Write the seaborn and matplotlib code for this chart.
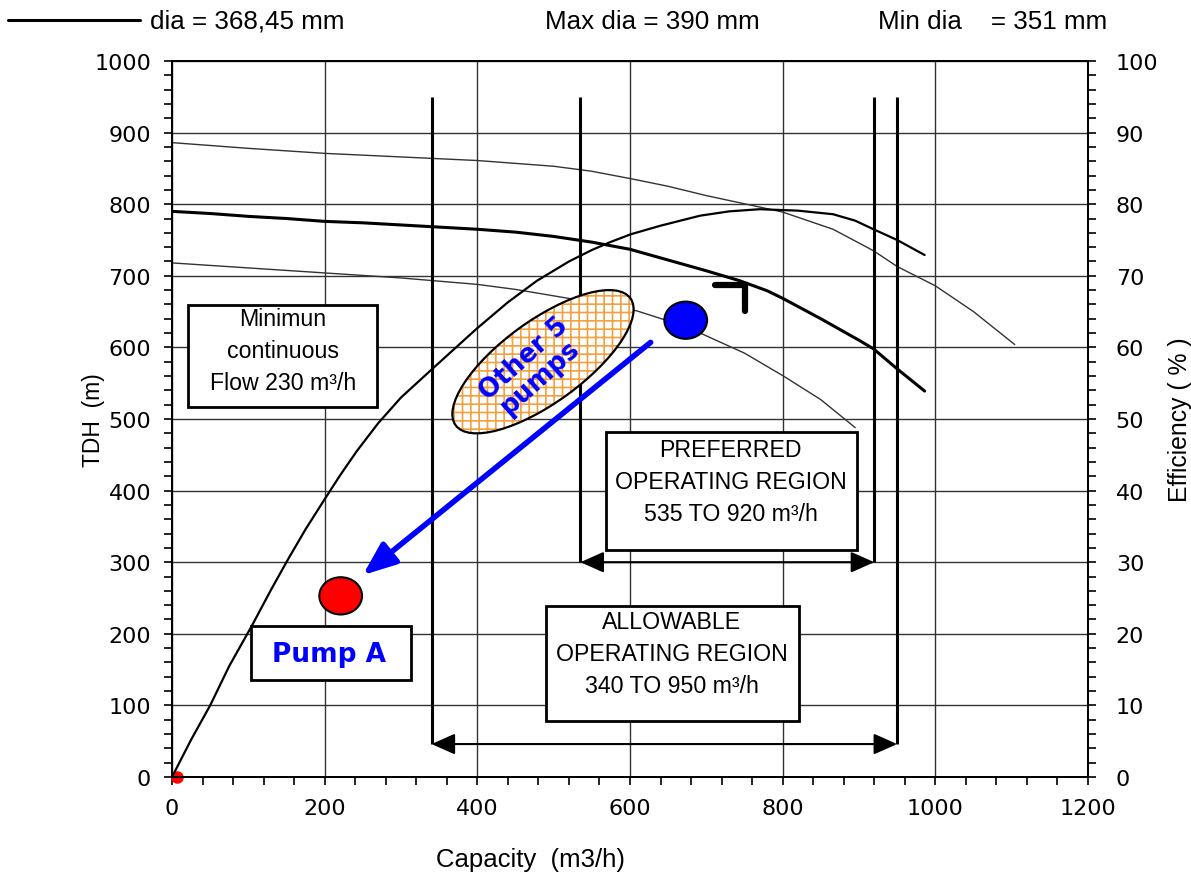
import numpy as np
import pandas as pd
import matplotlib.pyplot as plt
import matplotlib.transforms as mtransforms
from matplotlib.patches import Ellipse, Rectangle
from matplotlib.lines import Line2D
from matplotlib.ticker import MultipleLocator
import seaborn as sns

# --- head curves (TDH, m) ---
q_max = [0, 100, 200, 300, 400, 450, 500, 550, 604, 650, 700, 770, 800, 866, 919, 950, 1000, 1050, 1104]
h_max = [886, 878, 871, 866, 861, 857, 853, 846, 835, 825, 812, 796, 789, 765, 735, 713, 686, 650, 604]

q_rated = [0, 50, 100, 150, 200, 250, 300, 350, 400, 450, 500, 550, 600, 650, 700, 744, 780, 801,
           850, 900, 919, 950, 986]
h_rated = [790, 787, 783, 780, 776, 774, 771, 768, 765, 761, 755, 747, 737, 722, 707, 693, 679, 668,
           640, 610, 598, 570, 539]

q_min = [0, 100, 200, 300, 400, 450, 500, 550, 609, 650, 692, 750, 801, 850, 895]
h_min = [718, 711, 704, 697, 688, 681, 672, 663, 651, 637, 620, 592, 560, 527, 488]

# --- efficiency curve (%) ---
q_eff = [0, 25, 50, 75, 104, 130, 152, 175, 200, 220, 242, 270, 300, 340, 370, 399, 440, 478,
         520, 550, 574, 601, 640, 692, 730, 770, 820, 866, 895, 919, 950, 986]
eff = [0, 5.2, 10, 15.5, 21, 26.2, 30.4, 34.6, 38.8, 42.1, 45.5, 49.4, 53, 56.9, 59.8, 62.6, 66.3, 69.3,
       72, 73.6, 74.7, 75.8, 77, 78.4, 79, 79.3, 79.1, 78.6, 77.7, 76.5, 75, 72.9]

# --- operating regions (m3/h) ---
allow_lo, allow_hi = 340, 950
pref_lo, pref_hi = 535, 920
min_flow = 230

# --- pump duty points ---
pump_a = (221, 253)
pump_other = (673, 638)
group_centre = (486, 580)
arrow_from = (627, 607)
arrow_to = (250, 282)

header = ["dia = 368,45 mm", "Max dia = 390 mm", "Min dia    = 351 mm"]

sns.set_style("ticks")
plt.rcParams['font.family'] = ['Liberation Sans', 'DejaVu Sans']
plt.rcParams['hatch.linewidth'] = 1.2
plt.rcParams['text.color'] = 'black'
plt.rcParams['axes.labelcolor'] = 'black'
plt.rcParams['xtick.color'] = 'black'
plt.rcParams['ytick.color'] = 'black'

fig = plt.figure(figsize=(11.91, 8.79), dpi=100)
ax = fig.add_axes([172 / 1191, 1 - 778 / 879, 916 / 1191, 716 / 879])
ax2 = ax.twinx()

# grid
ax.set_xlim(0, 1200)
ax.set_ylim(0, 1000)
ax2.set_ylim(0, 100)
ax.xaxis.set_major_locator(MultipleLocator(200))
ax.xaxis.set_minor_locator(MultipleLocator(40))
ax.yaxis.set_major_locator(MultipleLocator(100))
ax.yaxis.set_minor_locator(MultipleLocator(20))
ax2.yaxis.set_major_locator(MultipleLocator(10))
ax2.yaxis.set_minor_locator(MultipleLocator(2))
ax.grid(True, which='major', color='#333333', lw=1.0, zorder=0)
ax.set_axisbelow(True)

for a in (ax, ax2):
    for s in a.spines.values():
        s.set_visible(True)
        s.set_linewidth(1.4)
        s.set_color('black')

ax.tick_params(axis='x', which='both', direction='out', top=False, pad=9, length=6, width=1.2)
ax.tick_params(axis='y', which='both', direction='out', right=False, pad=9, length=6, width=1.2)
ax2.tick_params(axis='y', which='both', direction='out', pad=14, length=6, width=1.2)
for lab in ax.get_xticklabels() + ax.get_yticklabels() + ax2.get_yticklabels():
    lab.set_fontfamily('DejaVu Sans')
    lab.set_fontsize(16)

# head curves
sns.lineplot(x=q_max, y=h_max, ax=ax, color='#333333', lw=1.0, zorder=3)
sns.lineplot(x=q_rated, y=h_rated, ax=ax, color='black', lw=2.2, zorder=3)
sns.lineplot(x=q_min, y=h_min, ax=ax, color='#333333', lw=1.0, zorder=3)

# efficiency curve
sns.lineplot(x=q_eff, y=eff, ax=ax2, color='black', lw=1.6)
ax2.set_ylim(0, 100)
ax2.set_xlim(0, 1200)

# operating region limits
ax.vlines([allow_lo, allow_hi], 46, 950, color='black', lw=2.2, zorder=4)
ax.vlines([pref_lo, pref_hi], 300, 950, color='black', lw=2.2, zorder=4)
for lo, hi, yy in [(allow_lo, allow_hi, 46), (pref_lo, pref_hi, 300)]:
    ax.annotate('', xy=(hi, yy), xytext=(lo, yy),
                arrowprops=dict(arrowstyle='<|-|>,head_length=0.9,head_width=0.4', color='black',
                                lw=1.5, mutation_scale=16, shrinkA=0, shrinkB=0), zorder=4)

# text boxes
boxes = [
    ((21, 517), 248, 142, (145, 595), "Minimun\ncontinuous\nFlow %d m³/h" % min_flow),
    ((569, 317), 328, 165, (732, 413), "PREFERRED\nOPERATING REGION\n%d TO %d m³/h" % (pref_lo, pref_hi)),
    ((490, 78), 331, 161, (655, 172), "ALLOWABLE\nOPERATING REGION\n%d TO %d m³/h" % (allow_lo, allow_hi)),
]
for xy, w, h, c, txt in boxes:
    ax.add_patch(Rectangle(xy, w, h, facecolor='white', edgecolor='black', lw=2.0, zorder=5))
    ax.text(c[0], c[1], txt, ha='center', va='center', fontsize=16.7, linespacing=1.5, zorder=6)

ax.add_patch(Rectangle((103.5, 135), 209.5, 76, facecolor='white', edgecolor='black', lw=2.0, zorder=5))
ax.text(206, 172, "Pump A", ha='center', va='center', fontsize=19, fontweight='bold',
        color='blue', family='DejaVu Sans', zorder=6)

# group of other pumps: hatched ellipse drawn in screen units
tr = fig.dpi_scale_trans + mtransforms.ScaledTranslation(group_centre[0], group_centre[1], ax.transData)
ax.add_patch(Ellipse((0, 0), 2.16, 0.82, angle=36, transform=tr, facecolor='white',
                     edgecolor='#f5a040', hatch='++', lw=0, zorder=6))
ax.add_patch(Ellipse((0, 0), 2.16, 0.82, angle=36, transform=tr, fill=False,
                     edgecolor='black', lw=1.6, zorder=7))
ax.text(472, 572, "Other 5\npumps", ha='center', va='center', rotation=42, fontsize=18.5,
        fontweight='bold', color='blue', family='DejaVu Sans', linespacing=0.9, zorder=8)

# duty points
ax.add_patch(Ellipse(pump_a, 56, 52, facecolor='red', edgecolor='black', lw=1.5, zorder=7))
ax.add_patch(Ellipse(pump_other, 56, 52, facecolor='blue', edgecolor='black', lw=1.5, zorder=7))
ax.annotate('', xy=arrow_to, xytext=arrow_from,
            arrowprops=dict(arrowstyle='-|>,head_length=1.0,head_width=0.4', color='blue',
                            lw=4, mutation_scale=20, shrinkA=0, shrinkB=0), zorder=7)

# rated point mark
ax.plot([711, 750, 750], [687, 687, 651], color='black', lw=4.5, solid_capstyle='round',
        solid_joinstyle='miter', zorder=7)
ax.plot([6], [0], marker='o', ms=8, color='red', mec='red', clip_on=False, zorder=9)

# axis labels
ax.set_xlabel("Capacity  (m3/h)", fontsize=18.5)
ax.set_ylabel("TDH  (m)", fontsize=16.5)
ax2.set_ylabel("Efficiency ( % )", fontsize=17.8)
ax.xaxis.set_label_coords(0.391, -0.098)
ax.yaxis.set_label_coords(-0.073, 0.5)
ax2.yaxis.set_label_coords(1.087, 0.5)

# header legend
fig.add_artist(Line2D([8 / 1191, 140 / 1191], [1 - 21 / 879] * 2, color='black', lw=2.2))
for xpx, txt in zip([150, 545, 878], header):
    fig.text(xpx / 1191, 1 - 22 / 879, txt, ha='left', va='center', fontsize=18.7)

fig.savefig('out.png', dpi=100)
